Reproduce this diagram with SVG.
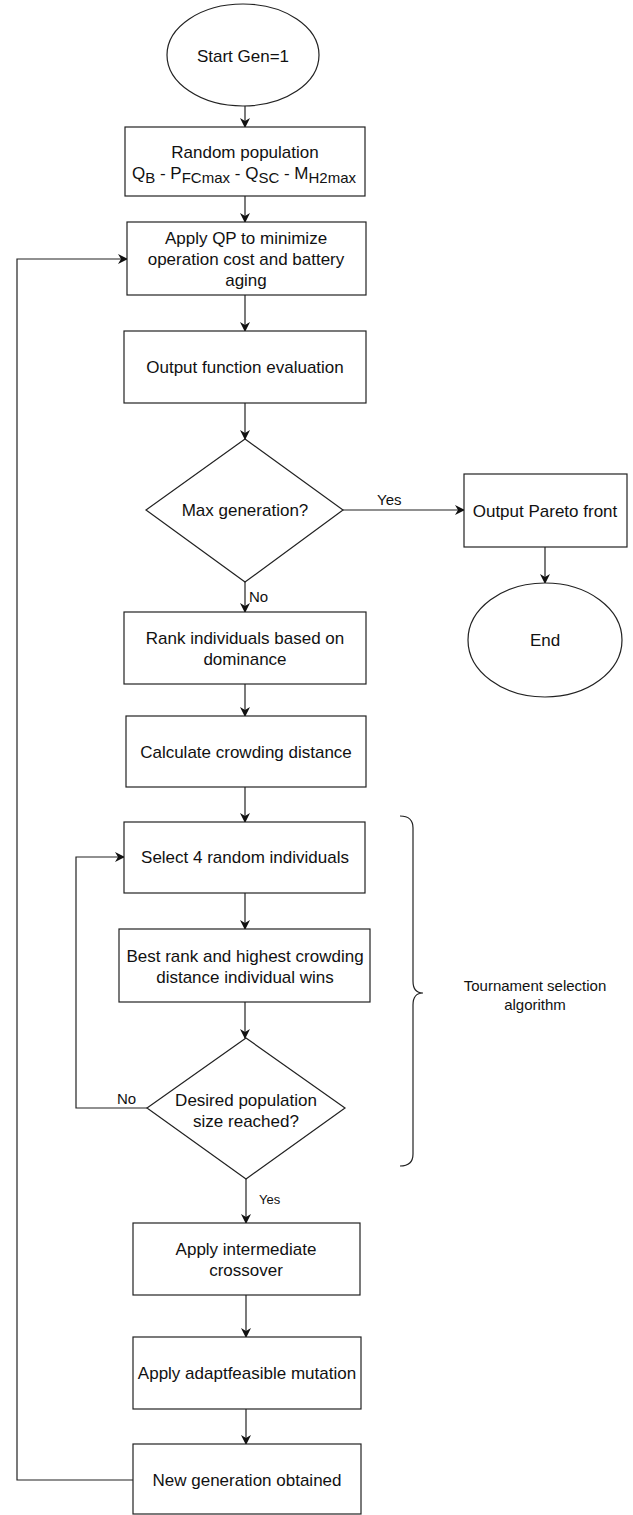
<svg xmlns="http://www.w3.org/2000/svg" width="633" height="1515" viewBox="0 0 633 1515">
<style>
.n{fill:#fff;stroke:#222;stroke-width:1.2}
.t{font-family:"Liberation Sans",Arial,sans-serif;font-size:17px;fill:#111;text-anchor:middle}
.l{font-family:"Liberation Sans",Arial,sans-serif;font-size:15px;fill:#111}
.c{fill:none;stroke:#222;stroke-width:1.2}
</style>
<defs>
<marker id="a" viewBox="0 0 10 10" refX="9" refY="5" markerWidth="10" markerHeight="10" markerUnits="userSpaceOnUse" orient="auto">
<path d="M0,0 L10,5 L0,10 L3,5 Z" fill="#111"/>
</marker>
</defs>
<rect width="633" height="1515" fill="#fff"/>
<g id="connectors">
<path class="c" d="M245,106 V127" marker-end="url(#a)"/>
<path class="c" d="M245,196 V222" marker-end="url(#a)"/>
<path class="c" d="M245,295 V331" marker-end="url(#a)"/>
<path class="c" d="M245,403 V439" marker-end="url(#a)"/>
<path class="c" d="M343,510 H464" marker-end="url(#a)"/>
<path class="c" d="M545,547 V583" marker-end="url(#a)"/>
<path class="c" d="M245,582 V612" marker-end="url(#a)"/>
<path class="c" d="M245,684 V716" marker-end="url(#a)"/>
<path class="c" d="M245,787 V822" marker-end="url(#a)"/>
<path class="c" d="M245,893 V929" marker-end="url(#a)"/>
<path class="c" d="M245,1002 V1038" marker-end="url(#a)"/>
<path class="c" d="M147,1108 H76 V857 H124" marker-end="url(#a)"/>
<path class="c" d="M246,1179 V1223" marker-end="url(#a)"/>
<path class="c" d="M246,1295 V1337" marker-end="url(#a)"/>
<path class="c" d="M246,1409 V1444" marker-end="url(#a)"/>
<path class="c" d="M133,1480 H17 V259 H127" marker-end="url(#a)"/>
<text class="l" x="377" y="505">Yes</text>
<text class="l" x="249" y="602">No</text>
<text class="l" x="117" y="1104">No</text>
<text class="l" x="259" y="1204" style="font-size:13px">Yes</text>
</g>
<g id="start"><ellipse class="n" cx="243" cy="55" rx="76" ry="51"/><text class="t" x="243" y="62">Start Gen=1</text></g>
<g id="random"><rect class="n" x="125" y="127" width="240" height="69"/>
<text class="t" x="245" y="158">Random population</text>
<text class="t" x="244" y="179">Q<tspan dy="4" style="font-size:15px">B</tspan><tspan dy="-4"> - P</tspan><tspan dy="4" style="font-size:15px">FCmax</tspan><tspan dy="-4"> - Q</tspan><tspan dy="4" style="font-size:15px">SC</tspan><tspan dy="-4"> - M</tspan><tspan dy="4" style="font-size:15px">H2max</tspan></text></g>
<g id="qp"><rect class="n" x="127" y="222" width="239" height="73"/>
<text class="t" x="246" y="244">Apply QP to minimize</text>
<text class="t" x="246" y="265">operation cost and battery</text>
<text class="t" x="246" y="286">aging</text></g>
<g id="evaluation"><rect class="n" x="124" y="331" width="242" height="72"/><text class="t" x="245" y="373">Output function evaluation</text></g>
<g id="maxgen"><polygon class="n" points="245,439 343,510 245,582 146,510"/><text class="t" x="245" y="516">Max generation?</text></g>
<g id="pareto"><rect class="n" x="464" y="474" width="163" height="73"/><text class="t" x="545" y="517">Output Pareto front</text></g>
<g id="end"><ellipse class="n" cx="545" cy="640" rx="77" ry="57"/><text class="t" x="545" y="646">End</text></g>
<g id="rank"><rect class="n" x="124" y="612" width="242" height="72"/>
<text class="t" x="245" y="644">Rank individuals based on</text>
<text class="t" x="245" y="665">dominance</text></g>
<g id="crowding"><rect class="n" x="126" y="716" width="240" height="71"/><text class="t" x="246" y="758">Calculate crowding distance</text></g>
<g id="select"><rect class="n" x="124" y="822" width="241" height="71"/><text class="t" x="245" y="863">Select 4 random individuals</text></g>
<g id="best"><rect class="n" x="119" y="929" width="251" height="73"/>
<text class="t" x="245" y="962">Best rank and highest crowding</text>
<text class="t" x="245" y="983">distance individual wins</text></g>
<g id="desired"><polygon class="n" points="246,1038 345,1108 246,1179 147,1108"/>
<text class="t" x="246" y="1106">Desired population</text>
<text class="t" x="246" y="1127">size reached?</text></g>
<g id="tournament"><path class="c" d="M400,816 Q413,816 413,828 V981 Q413,993 423,993 Q413,993 413,1005 V1154 Q413,1166 400,1166"/>
<text class="l" x="535" y="991" text-anchor="middle">Tournament selection</text>
<text class="l" x="535" y="1010" text-anchor="middle">algorithm</text></g>
<g id="crossover"><rect class="n" x="133" y="1223" width="227" height="72"/>
<text class="t" x="246" y="1255">Apply intermediate</text>
<text class="t" x="246" y="1276">crossover</text></g>
<g id="mutation"><rect class="n" x="133" y="1337" width="228" height="72"/><text class="t" x="247" y="1379">Apply adaptfeasible mutation</text></g>
<g id="newgen"><rect class="n" x="133" y="1444" width="228" height="70"/><text class="t" x="247" y="1486">New generation obtained</text></g>
</svg>
